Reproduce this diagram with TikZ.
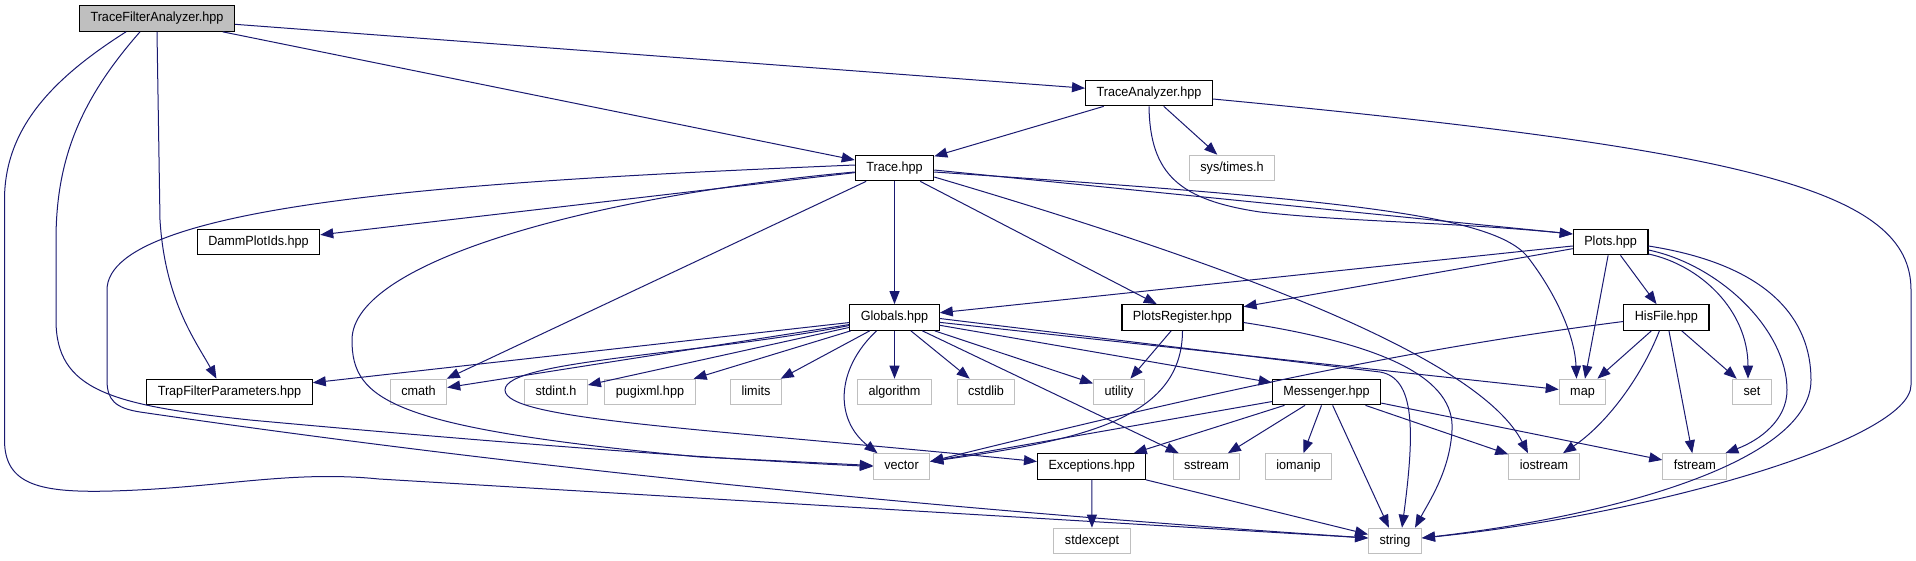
\documentclass[tikz,border=0pt]{standalone}
\usepackage{fontspec}
\setmainfont{Liberation Sans}[FakeStretch=0.95]
\usepackage{xcolor}
\usetikzlibrary{arrows.meta}

\definecolor{incblue}{HTML}{191970}
\definecolor{sysgray}{HTML}{BFBFBF}

\begin{document}
\begin{tikzpicture}[
    x=1pt, y=-1pt,
    font=\fontsize{13.3}{14}\selectfont,
    base/.style={draw, rectangle, line width=1.1pt, inner xsep=11pt, inner ysep=0pt, minimum height=25.6pt, text height=9.6pt, text depth=2.8pt},
    hdr/.style={base, draw=black, fill=white},
    root/.style={base, draw=black, fill=sysgray},
    sys/.style={base, draw=sysgray, line width=1pt, fill=white},
    inc/.style={-{Triangle[length=13pt, width=10pt]}, draw=incblue, line width=1pt}
]
    \useasboundingbox (0,0) rectangle (1916,560);

    % --- nodes ---
    \node [root] (tfa) at (157,18.5) {TraceFilterAnalyzer.hpp};
    \node [hdr] (ta) at (1149,93) {TraceAnalyzer.hpp};
    \node [hdr] (trace) at (894.5,168) {Trace.hpp};
    \node [sys] (times) at (1232,168) {sys/times.h};
    \node [hdr] (damm) at (258.5,242) {DammPlotIds.hpp};
    \node [hdr] (plots) at (1610.6,242) {Plots.hpp};
    \node [hdr] (globals) at (894.5,317.5) {Globals.hpp};
    \node [hdr] (plotsreg) at (1182.5,317.5) {PlotsRegister.hpp};
    \node [hdr] (hisfile) at (1666.4,317.5) {HisFile.hpp};
    \node [hdr] (trap) at (229.5,392) {TrapFilterParameters.hpp};
    \node [sys] (cmath) at (418.5,392) {cmath};
    \node [sys] (stdint) at (556,392) {stdint.h};
    \node [sys] (pugixml) at (650,392) {pugixml.hpp};
    \node [sys] (limits) at (756,392) {limits};
    \node [sys] (algorithm) at (894.5,392) {algorithm};
    \node [sys] (cstdlib) at (986,392) {cstdlib};
    \node [sys] (utility) at (1119,392) {utility};
    \node [hdr] (messenger) at (1326.5,392) {Messenger.hpp};
    \node [sys] (map) at (1582.5,392) {map};
    \node [sys] (set) at (1752,392) {set};
    \node [sys] (vector) at (901.5,466.5) {vector};
    \node [hdr] (exceptions) at (1091.7,466.5) {Exceptions.hpp};
    \node [sys] (sstream) at (1206.5,466.5) {sstream};
    \node [sys] (iomanip) at (1298.5,466.5) {iomanip};
    \node [sys] (iostream) at (1544,466.5) {iostream};
    \node [sys] (fstream) at (1694.8,466.5) {fstream};
    \node [sys] (stdexcept) at (1092,541) {stdexcept};
    \node [sys] (string) at (1395,541) {string};

    % --- TraceFilterAnalyzer.hpp ---
    \draw [inc] (tfa) -- (ta);
    \draw [inc] (tfa) -- (trace);
    \draw [inc] (tfa.south) -- (160,220) .. controls (165,300) and (195,340) .. ([xshift=-13pt]trap.north);
    \draw [inc] ([xshift=-17pt]tfa.south) .. controls (80,100) and (56,160) .. (56,240) -- (56,320)
        .. controls (56,390) and (110,405) .. (250,420) .. controls (600,452) and (780,462) .. (vector.west);
    \draw [inc] ([xshift=-31pt]tfa.south) .. controls (50,80) and (4.5,130) .. (4.5,200) -- (4.5,440)
        .. controls (4.5,485) and (40,493) .. (112,491) .. controls (220,488) and (290,470) .. (379,479)
        -- ([yshift=3pt]string.west);

    % --- TraceAnalyzer.hpp ---
    \draw [inc] (ta) -- (trace);
    \draw [inc] (ta) -- (times);
    \draw [inc] (ta.south) .. controls (1150,175) and (1180,200) .. (1260,212)
        .. controls (1350,222) and (1450,222) .. ([yshift=8pt]plots.west);
    \draw [inc] ([yshift=-6pt]ta.east) .. controls (1750,150) and (1911,190) .. (1911,290) -- (1911,385)
        .. controls (1911,440) and (1650,515) .. ([yshift=3pt]string.east);

    % --- Trace.hpp ---
    \draw [inc] (trace) -- (damm);
    \draw [inc] (trace) -- (cmath);
    \draw [inc] (trace) -- (globals);
    \draw [inc] (trace) -- (plotsreg);
    \draw [inc] ([yshift=-2pt]trace.east) -- ([yshift=8pt]plots.west);
    \draw [inc] ([yshift=-4pt]trace.east) .. controls (1350,200) and (1500,215) .. (1530,260)
        .. controls (1560,300) and (1575,340) .. ([xshift=-6pt]map.north);
    \draw [inc] ([yshift=-9pt]trace.east) .. controls (1250,270) and (1480,360) .. ([xshift=-16pt]iostream.north);
    \draw [inc] ([yshift=3pt]trace.west) .. controls (500,180) and (107,200) .. (107,290) -- (107,380)
        .. controls (107,400) and (115,408) .. (140,412) .. controls (400,450) and (800,500) .. ([yshift=3pt]string.west);
    \draw [inc] ([yshift=-4pt]trace.west) .. controls (600,195) and (352,260) .. (352,340)
        .. controls (352,400) and (390,428) .. (700,457) -- ([yshift=1pt]vector.west);

    % --- Globals.hpp ---
    \draw [inc] (globals) -- (trap);
    \draw [inc] (globals) -- (cmath);
    \draw [inc] (globals) -- (stdint);
    \draw [inc] (globals) -- (pugixml);
    \draw [inc] (globals) -- (limits);
    \draw [inc] (globals) -- (algorithm);
    \draw [inc] (globals) -- (cstdlib);
    \draw [inc] (globals) -- (utility);
    \draw [inc] (globals) -- (sstream);
    \draw [inc] (globals) -- (messenger);
    \draw [inc] (globals) -- (map);
    \draw [inc] ([yshift=-1pt]globals.east) -- (1380,372) .. controls (1415,378) and (1415,430) .. ([xshift=7pt]string.north);
    \draw [inc] ([xshift=-18pt]globals.south) .. controls (835,370) and (835,420) .. ([xshift=-24pt]vector.north);
    \draw [inc] ([yshift=-8pt]globals.west) .. controls (700,355) and (505,360) .. (505,390)
        .. controls (505,420) and (700,428) .. ([yshift=5pt]exceptions.west);

    % --- PlotsRegister.hpp ---
    \draw [inc] (plotsreg) -- (utility);
    \draw [inc] (plotsreg.south) .. controls (1182,420) and (1080,440) .. ([yshift=5pt]vector.east);
    \draw [inc] ([yshift=-5pt]plotsreg.east) .. controls (1390,345) and (1455,380) .. (1452,430)
        .. controls (1450,470) and (1430,500) .. ([xshift=20pt]string.north);

    % --- Plots.hpp ---
    \draw [inc] (plots) -- (globals);
    \draw [inc] (plots) -- (plotsreg);
    \draw [inc] (plots) -- (hisfile);
    \draw [inc] (plots) -- (map);
    \draw [inc] ([yshift=-12pt]plots.east) .. controls (1700,265) and (1748,310) .. ([xshift=-4pt]set.north);
    \draw [inc] ([yshift=-8pt]plots.east) .. controls (1720,265) and (1787,330) .. (1787,390)
        .. controls (1787,420) and (1760,440) .. ([xshift=-2pt]fstream.north east);
    \draw [inc] ([yshift=-4pt]plots.east) .. controls (1770,265) and (1811,320) .. (1811,380)
        .. controls (1811,460) and (1620,515) .. ([yshift=3pt]string.east);

    % --- HisFile.hpp ---
    \draw [inc] ([yshift=-4pt]hisfile.west) .. controls (1400,350) and (1200,395) .. ([yshift=5pt]vector.east);
    \draw [inc] (hisfile) -- (map);
    \draw [inc] ([xshift=-7pt]hisfile.south) .. controls (1640,380) and (1605,425) .. ([xshift=19pt]iostream.north);
    \draw [inc] (hisfile) -- (fstream);
    \draw [inc] (hisfile) -- (set);

    % --- Messenger.hpp ---
    \draw [inc] (messenger) -- (vector);
    \draw [inc] (messenger) -- (exceptions);
    \draw [inc] (messenger) -- (sstream);
    \draw [inc] (messenger) -- (iomanip);
    \draw [inc] (messenger) -- (string);
    \draw [inc] (messenger) -- (iostream);
    \draw [inc] (messenger) -- (fstream);

    % --- Exceptions.hpp ---
    \draw [inc] (exceptions) -- (stdexcept);
    \draw [inc] (exceptions) -- (string);

\end{tikzpicture}
\end{document}
